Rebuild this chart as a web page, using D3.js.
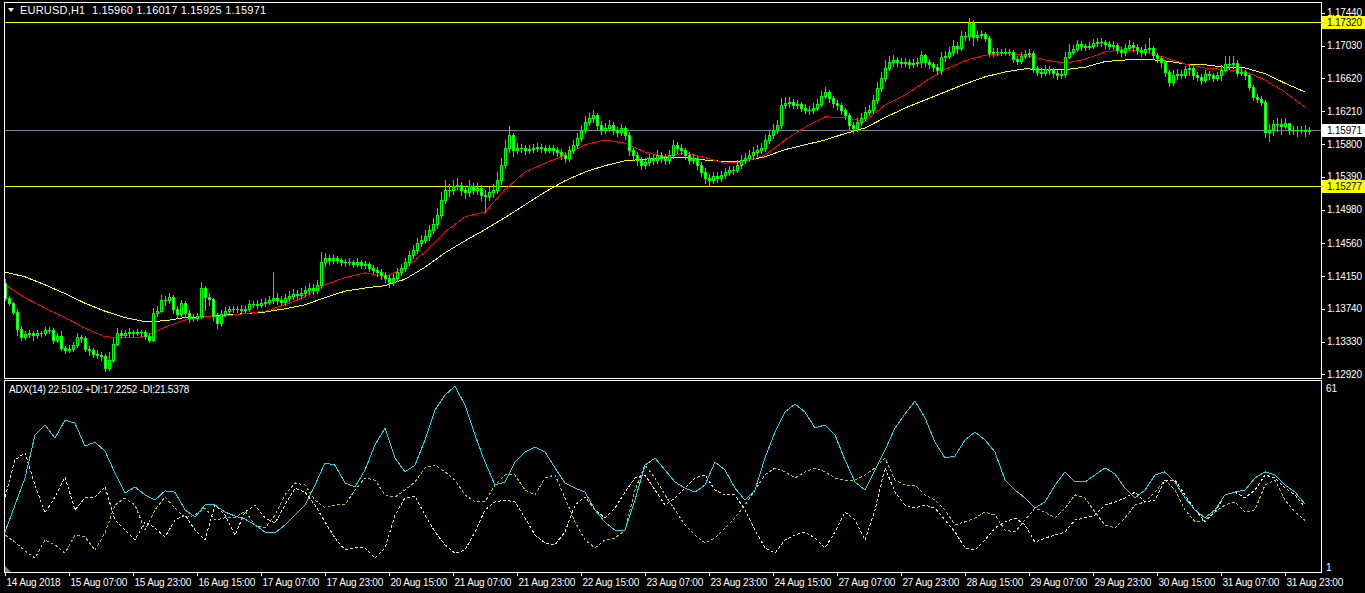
<!DOCTYPE html>
<html><head><meta charset="utf-8">
<script src="https://cdn.jsdelivr.net/npm/d3@7"></script>
<style>
body{margin:0;background:#000;overflow:hidden}
svg{display:block}
text{font-family:"Liberation Sans",Arial,sans-serif;font-size:10px;fill:#fff;white-space:pre}
</style></head><body>
<svg id="c" width="1365" height="593"></svg>
<script>
// ---------------- DATA ----------------
const symbolTitle = "EURUSD,H1  1.15960 1.16017 1.15925 1.15971";
const adxTitle = "ADX(14) 22.5102 +DI:17.2252 -DI:21.5378";
const firstOpen = 1.1406;
const close = [
1.1388,1.1381,1.1370,1.1349,1.1339,1.1343,1.1344,1.1341,1.1344,1.1344,
1.1348,1.1348,1.1335,1.1340,1.1325,1.1323,1.1324,1.1329,1.1339,1.1338,
1.1324,1.1323,1.1318,1.1316,1.1315,1.1300,1.1310,1.1330,1.1344,1.1341,
1.1344,1.1345,1.1344,1.1345,1.1345,1.1340,1.1335,1.1369,1.1371,1.1385,
1.1385,1.1389,1.1374,1.1368,1.1381,1.1369,1.1363,1.1363,1.1365,1.1400,
1.1389,1.1386,1.1365,1.1356,1.1368,1.1371,1.1374,1.1374,1.1374,1.1373,
1.1374,1.1380,1.1380,1.1379,1.1381,1.1383,1.1385,1.1388,1.1385,1.1383,
1.1388,1.1390,1.1393,1.1391,1.1394,1.1398,1.1400,1.1398,1.1404,1.1433,
1.1438,1.1435,1.1438,1.1435,1.1433,1.1433,1.1433,1.1430,1.1433,1.1429,
1.1430,1.1425,1.1423,1.1420,1.1416,1.1413,1.1408,1.1413,1.1420,1.1425,
1.1433,1.1441,1.1448,1.1456,1.1460,1.1465,1.1473,1.1480,1.1491,1.1510,
1.1523,1.1523,1.1528,1.1529,1.1523,1.1520,1.1528,1.1523,1.1525,1.1516,
1.1515,1.1520,1.1523,1.1535,1.1554,1.1575,1.1591,1.1573,1.1575,1.1575,
1.1573,1.1574,1.1575,1.1576,1.1575,1.1573,1.1575,1.1573,1.1570,1.1566,
1.1563,1.1573,1.1579,1.1588,1.1598,1.1608,1.1613,1.1616,1.1604,1.1598,
1.1600,1.1604,1.1598,1.1595,1.1600,1.1591,1.1573,1.1566,1.1560,1.1554,
1.1558,1.1563,1.1560,1.1566,1.1563,1.1560,1.1566,1.1579,1.1575,1.1573,
1.1566,1.1560,1.1563,1.1554,1.1545,1.1538,1.1535,1.1540,1.1538,1.1541,
1.1545,1.1548,1.1548,1.1554,1.1560,1.1563,1.1566,1.1570,1.1573,1.1575,
1.1585,1.1591,1.1598,1.1604,1.1629,1.1631,1.1633,1.1629,1.1630,1.1625,
1.1623,1.1623,1.1625,1.1630,1.1640,1.1645,1.1638,1.1631,1.1629,1.1623,
1.1616,1.1604,1.1600,1.1608,1.1613,1.1620,1.1623,1.1635,1.1650,1.1663,
1.1675,1.1683,1.1685,1.1683,1.1681,1.1683,1.1680,1.1681,1.1683,1.1691,
1.1683,1.1680,1.1676,1.1673,1.1689,1.1690,1.1695,1.1703,1.1700,1.1715,
1.1715,1.1731,1.1714,1.1716,1.1718,1.1713,1.1694,1.1695,1.1695,1.1695,
1.1695,1.1695,1.1686,1.1684,1.1690,1.1693,1.1694,1.1675,1.1670,1.1669,
1.1674,1.1673,1.1669,1.1666,1.1668,1.1689,1.1695,1.1699,1.1705,1.1703,
1.1701,1.1703,1.1706,1.1708,1.1708,1.1705,1.1703,1.1704,1.1698,1.1695,
1.1700,1.1704,1.1701,1.1698,1.1695,1.1699,1.1700,1.1691,1.1688,1.1683,
1.1670,1.1658,1.1666,1.1668,1.1666,1.1674,1.1675,1.1666,1.1664,1.1660,
1.1668,1.1666,1.1663,1.1666,1.1673,1.1680,1.1680,1.1681,1.1669,1.1670,
1.1666,1.1651,1.1639,1.1636,1.1633,1.1595,1.1598,1.1605,1.1605,1.1603,
1.1606,1.1598,1.1598,1.1598,1.1598,1.1596,1.15971];
const high = [
1.1411,1.1390,1.1383,1.1374,1.1353,1.1346,1.1348,1.1346,1.1348,1.1346,
1.1351,1.1351,1.1350,1.1344,1.1346,1.1328,1.1329,1.1333,1.1344,1.1341,
1.1340,1.1328,1.1325,1.1323,1.1320,1.1318,1.1320,1.1338,1.1350,1.1348,
1.1348,1.1350,1.1348,1.1349,1.1348,1.1348,1.1344,1.1375,1.1378,1.1391,
1.1390,1.1394,1.1391,1.1378,1.1385,1.1384,1.1373,1.1368,1.1369,1.1408,
1.1403,1.1394,1.1388,1.1369,1.1373,1.1376,1.1378,1.1378,1.1378,1.1379,
1.1378,1.1385,1.1384,1.1385,1.1386,1.1388,1.1390,1.1420,1.1394,1.1390,
1.1393,1.1396,1.1399,1.1398,1.1400,1.1403,1.1406,1.1405,1.1410,1.1445,
1.1444,1.1441,1.1443,1.1440,1.1438,1.1436,1.1438,1.1435,1.1438,1.1435,
1.1434,1.1433,1.1429,1.1426,1.1424,1.1420,1.1416,1.1418,1.1425,1.1430,
1.1438,1.1446,1.1454,1.1463,1.1466,1.1473,1.1479,1.1488,1.1500,1.1520,
1.1535,1.1530,1.1535,1.1538,1.1533,1.1528,1.1535,1.1531,1.1531,1.1529,
1.1523,1.1526,1.1530,1.1545,1.1563,1.1585,1.1603,1.1594,1.1581,1.1580,
1.1579,1.1579,1.1580,1.1581,1.1580,1.1579,1.1579,1.1579,1.1576,1.1574,
1.1570,1.1578,1.1585,1.1594,1.1604,1.1615,1.1619,1.1623,1.1619,1.1609,
1.1606,1.1610,1.1608,1.1601,1.1605,1.1603,1.1595,1.1575,1.1570,1.1564,
1.1563,1.1568,1.1566,1.1573,1.1570,1.1568,1.1573,1.1585,1.1583,1.1580,
1.1575,1.1570,1.1568,1.1565,1.1558,1.1550,1.1543,1.1545,1.1545,1.1546,
1.1550,1.1553,1.1553,1.1560,1.1566,1.1569,1.1573,1.1576,1.1579,1.1581,
1.1591,1.1598,1.1605,1.1610,1.1638,1.1639,1.1639,1.1636,1.1635,1.1633,
1.1630,1.1628,1.1631,1.1636,1.1646,1.1651,1.1648,1.1640,1.1635,1.1631,
1.1625,1.1619,1.1608,1.1613,1.1619,1.1626,1.1629,1.1641,1.1658,1.1670,
1.1685,1.1690,1.1691,1.1689,1.1688,1.1688,1.1686,1.1686,1.1688,1.1696,
1.1693,1.1686,1.1683,1.1680,1.1695,1.1696,1.1701,1.1710,1.1708,1.1721,
1.1720,1.1738,1.1735,1.1721,1.1723,1.1720,1.1715,1.1700,1.1700,1.1699,
1.1700,1.1699,1.1698,1.1690,1.1695,1.1698,1.1699,1.1696,1.1678,1.1675,
1.1679,1.1678,1.1675,1.1673,1.1673,1.1695,1.1705,1.1704,1.1710,1.1709,
1.1705,1.1708,1.1711,1.1713,1.1713,1.1710,1.1709,1.1709,1.1706,1.1701,
1.1705,1.1710,1.1708,1.1705,1.1701,1.1705,1.1713,1.1703,1.1694,1.1690,
1.1685,1.1673,1.1673,1.1674,1.1673,1.1678,1.1680,1.1678,1.1670,1.1668,
1.1673,1.1671,1.1669,1.1670,1.1679,1.1690,1.1690,1.1690,1.1685,1.1675,
1.1673,1.1669,1.1654,1.1643,1.1640,1.1635,1.1605,1.1610,1.1613,1.1611,
1.1613,1.1605,1.1603,1.1603,1.1603,1.1604,1.16017];
const low = [
1.1385,1.1379,1.1368,1.1341,1.1335,1.1336,1.1339,1.1335,1.1338,1.1340,
1.1341,1.1344,1.1331,1.1333,1.1323,1.1319,1.1320,1.1321,1.1326,1.1333,
1.1321,1.1316,1.1314,1.1313,1.1310,1.1296,1.1298,1.1308,1.1329,1.1338,
1.1339,1.1340,1.1340,1.1341,1.1340,1.1336,1.1333,1.1334,1.1365,1.1370,
1.1379,1.1381,1.1369,1.1363,1.1365,1.1364,1.1358,1.1359,1.1360,1.1363,
1.1373,1.1379,1.1360,1.1350,1.1353,1.1365,1.1369,1.1370,1.1370,1.1369,
1.1370,1.1371,1.1376,1.1375,1.1376,1.1378,1.1380,1.1381,1.1380,1.1379,
1.1379,1.1384,1.1386,1.1386,1.1388,1.1390,1.1393,1.1393,1.1394,1.1400,
1.1428,1.1430,1.1431,1.1431,1.1429,1.1428,1.1429,1.1426,1.1428,1.1425,
1.1425,1.1421,1.1419,1.1415,1.1411,1.1408,1.1401,1.1404,1.1409,1.1416,
1.1421,1.1429,1.1438,1.1444,1.1453,1.1456,1.1460,1.1469,1.1475,1.1488,
1.1506,1.1515,1.1518,1.1524,1.1516,1.1513,1.1515,1.1518,1.1518,1.1510,
1.1495,1.1510,1.1514,1.1519,1.1530,1.1550,1.1570,1.1565,1.1569,1.1570,
1.1568,1.1569,1.1570,1.1571,1.1570,1.1569,1.1570,1.1568,1.1565,1.1561,
1.1558,1.1559,1.1569,1.1575,1.1584,1.1594,1.1604,1.1608,1.1599,1.1593,
1.1594,1.1596,1.1593,1.1590,1.1591,1.1586,1.1566,1.1560,1.1554,1.1549,
1.1550,1.1554,1.1555,1.1556,1.1558,1.1555,1.1556,1.1563,1.1569,1.1568,
1.1561,1.1555,1.1556,1.1549,1.1540,1.1531,1.1529,1.1531,1.1533,1.1534,
1.1538,1.1541,1.1543,1.1545,1.1550,1.1556,1.1559,1.1563,1.1565,1.1569,
1.1571,1.1581,1.1588,1.1594,1.1600,1.1625,1.1626,1.1625,1.1625,1.1621,
1.1619,1.1618,1.1619,1.1623,1.1628,1.1638,1.1633,1.1626,1.1624,1.1618,
1.1611,1.1599,1.1594,1.1596,1.1604,1.1610,1.1616,1.1619,1.1631,1.1646,
1.1659,1.1673,1.1678,1.1678,1.1676,1.1678,1.1675,1.1676,1.1678,1.1676,
1.1678,1.1675,1.1671,1.1668,1.1668,1.1684,1.1688,1.1691,1.1694,1.1698,
1.1710,1.1710,1.1704,1.1710,1.1713,1.1709,1.1690,1.1690,1.1691,1.1691,
1.1691,1.1691,1.1683,1.1680,1.1681,1.1688,1.1689,1.1670,1.1666,1.1664,
1.1666,1.1668,1.1664,1.1661,1.1663,1.1664,1.1688,1.1693,1.1696,1.1698,
1.1698,1.1699,1.1700,1.1703,1.1703,1.1700,1.1699,1.1699,1.1694,1.1690,
1.1691,1.1698,1.1696,1.1693,1.1690,1.1691,1.1695,1.1686,1.1683,1.1676,
1.1665,1.1653,1.1654,1.1661,1.1663,1.1663,1.1666,1.1661,1.1660,1.1655,
1.1658,1.1661,1.1659,1.1660,1.1660,1.1670,1.1674,1.1675,1.1665,1.1666,
1.1661,1.1648,1.1635,1.1633,1.1629,1.1589,1.1584,1.1591,1.1596,1.1593,
1.1600,1.1593,1.1593,1.1590,1.1594,1.1590,1.15925];
// moving averages, read every 5 bars
const maStep = 5;
const maSlow = [1.1420,1.1414,1.1404,1.1393,1.1381,1.1371,1.1363,1.1358,1.1359,1.1363,
1.1364,1.1366,1.1368,1.1370,1.1374,1.1379,1.1388,1.1396,1.1400,1.1403,
1.1411,1.1426,1.1444,1.1459,1.1473,1.1488,1.1504,1.1520,1.1534,1.1545,
1.1553,1.1559,1.1561,1.1563,1.1563,1.1560,1.1558,1.1559,1.1564,1.1573,
1.1579,1.1585,1.1593,1.1600,1.1613,1.1625,1.1635,1.1645,1.1655,1.1664,
1.1670,1.1674,1.1673,1.1673,1.1676,1.1683,1.1685,1.1686,1.1684,1.1680,
1.1679,1.1676,1.1675,1.1668,1.1656,1.1645];
const maFast = [1.1404,1.1388,1.1375,1.1363,1.1350,1.1339,1.1338,1.1339,1.1351,1.1360,
1.1364,1.1365,1.1368,1.1371,1.1379,1.1389,1.1404,1.1413,1.1419,1.1414,
1.1425,1.1445,1.1470,1.1489,1.1495,1.1523,1.1545,1.1556,1.1566,1.1579,
1.1585,1.1581,1.1570,1.1564,1.1569,1.1563,1.1556,1.1558,1.1566,1.1585,
1.1601,1.1614,1.1613,1.1608,1.1629,1.1641,1.1658,1.1673,1.1684,1.1691,
1.1693,1.1691,1.1685,1.1681,1.1686,1.1695,1.1698,1.1695,1.1688,1.1680,
1.1675,1.1673,1.1671,1.1660,1.1645,1.1626];
// ADX(14) readings every 2.5 bars
const adxStep = 2.5;
const adx = [13.4,22.2,31.0,45.0,48.3,44.0,49.9,48.9,41.4,42.7,
39.8,32.6,26.1,28.1,25.5,23.8,26.8,26.4,20.6,18.3,
22.2,22.2,19.9,18.6,17.6,15.7,13.4,13.1,15.7,18.9,
22.2,28.7,35.9,35.2,29.4,28.1,33.6,41.8,47.3,37.5,
33.0,35.2,43.4,53.2,58.1,60.9,54.8,45.0,36.2,28.7,
29.7,36.2,39.5,41.1,39.5,34.3,29.4,27.7,26.4,20.6,
16.6,14.0,14.0,23.8,35.2,37.5,33.6,29.7,27.7,26.4,
28.7,36.2,33.6,27.7,23.8,27.1,37.5,46.0,52.5,55.1,
52.5,47.3,48.3,45.0,36.9,29.7,27.1,33.6,40.1,47.3,
51.9,56.1,50.6,42.7,37.5,38.2,43.4,46.0,43.4,39.5,
30.3,27.1,24.5,21.2,23.2,28.7,33.0,29.7,29.7,32.0,
34.3,32.3,27.7,24.5,27.1,32.0,33.0,29.7,24.5,20.6,
18.0,20.6,25.5,26.4,27.1,31.0,33.0,32.0,28.7,26.4,22.5];
const plusDI = [12.4,10.1,7.2,4.9,10.8,9.2,6.5,12.4,11.8,7.5,
13.1,22.2,24.5,22.2,14.0,20.6,24.8,21.2,18.0,18.9,
21.2,17.3,18.0,18.0,20.2,15.7,14.7,18.9,25.5,29.4,
28.7,23.8,21.2,22.2,22.2,27.1,31.0,30.3,25.5,24.8,
27.1,29.7,34.3,35.2,33.0,30.3,25.5,23.2,23.2,28.7,
32.0,32.0,27.1,25.5,31.0,32.0,24.5,16.7,10.8,8.2,
10.8,11.4,14.0,27.1,35.2,31.0,25.5,20.6,15.7,12.4,
9.8,11.4,14.7,18.0,22.2,27.1,32.0,34.3,33.0,31.0,
33.0,34.3,33.0,31.0,30.3,30.3,32.0,34.3,37.5,30.3,
28.7,28.7,25.5,23.8,20.6,15.7,16.7,18.0,19.9,18.9,
14.0,13.4,17.3,21.2,19.9,18.0,21.2,25.5,24.5,19.9,
15.7,14.7,18.0,22.2,23.2,26.4,30.3,27.1,20.6,16.7,
17.3,19.9,22.2,23.2,19.9,20.6,28.7,30.3,23.8,19.9,17.2];
const minusDI = [24.8,36.9,39.2,28.7,19.6,24.8,31.3,20.6,24.5,24.8,
28.1,17.3,14.0,10.8,16.7,14.7,11.8,17.3,18.9,14.0,
10.8,22.2,18.9,12.4,19.9,22.2,18.0,16.3,22.2,27.7,
26.4,22.2,16.7,11.4,7.5,8.2,8.2,4.9,8.2,18.9,
24.5,25.1,18.9,13.4,9.2,6.5,7.5,13.4,20.6,23.2,
23.8,23.2,18.0,12.4,9.8,9.2,13.4,22.2,24.8,20.6,
18.0,21.2,26.4,31.0,32.0,27.1,22.2,24.5,27.7,31.0,
32.0,27.1,25.5,25.5,20.6,14.0,8.2,6.5,10.8,12.4,
13.4,11.4,8.2,13.4,19.9,17.3,10.8,20.6,34.3,26.4,
22.2,21.2,22.2,21.2,17.3,13.4,8.2,7.5,10.8,14.7,
16.7,18.0,15.7,10.1,11.4,12.4,13.4,17.3,18.0,18.9,
22.2,23.2,24.5,26.4,23.2,23.8,30.3,30.3,25.5,20.6,
16.7,19.9,25.5,26.4,24.5,27.1,32.0,31.0,27.7,25.5,21.5];
const priceTicks = [1.17440,1.17030,1.16620,1.16210,1.15800,1.15390,1.14980,1.14560,1.14150,1.13740,1.13330,1.12920];
const levelLines = [1.17320, 1.15277];
const bidPrice = 1.15971;
const adxRange = [1, 61];
const timeStep = 16;
const timeLabels = ["14 Aug 2018","15 Aug 07:00","15 Aug 23:00","16 Aug 15:00","17 Aug 07:00","17 Aug 23:00","20 Aug 15:00","21 Aug 07:00","21 Aug 23:00","22 Aug 15:00","23 Aug 07:00","23 Aug 23:00","24 Aug 15:00","27 Aug 07:00","27 Aug 23:00","28 Aug 15:00","29 Aug 07:00","29 Aug 23:00","30 Aug 15:00","31 Aug 07:00","31 Aug 23:00"];

// ---------------- DRAW ----------------
const open = close.map((c, i) => i === 0 ? firstOpen : close[i - 1]);
const W = 1365, H = 593;
const L = 4, R = 1321, pTop = 2, pBot = 378, aTop = 380, aBot = 572;
const svg = d3.select('#c');
svg.append('rect').attr('width', W).attr('height', H).attr('fill', '#000');

const x = d3.scaleLinear().domain([0, close.length - 1]).range([5, 1309]);
const y = d3.scaleLinear().domain([1.12875, 1.175375]).range([378, 5]);
const ya = d3.scaleLinear().domain(adxRange).range([570, 386]);

const defs = svg.append('defs');
defs.append('clipPath').attr('id', 'cp').append('rect').attr('x', L + 1).attr('y', pTop + 1).attr('width', R - L - 1).attr('height', pBot - pTop - 1);
defs.append('clipPath').attr('id', 'ca').append('rect').attr('x', L + 1).attr('y', aTop + 1).attr('width', R - L - 1).attr('height', aBot - aTop - 1);

// horizontal level lines
const gp = svg.append('g').attr('clip-path', 'url(#cp)');
gp.selectAll('line.lvl').data(levelLines).join('line')
  .attr('x1', L).attr('x2', R).attr('y1', d => Math.round(y(d)) + 0.5).attr('y2', d => Math.round(y(d)) + 0.5)
  .attr('stroke', '#ffff00').attr('stroke-width', 1);
gp.append('line').attr('x1', L).attr('x2', R)
  .attr('y1', Math.round(y(bidPrice)) + 0.5).attr('y2', Math.round(y(bidPrice)) + 0.5)
  .attr('stroke', '#778899');

// moving averages
const maLine = d3.line().x((d, i) => x(i * maStep)).y(d => y(d));
gp.append('path').datum(maSlow).attr('d', maLine).attr('fill', 'none').attr('stroke', '#ffff00').attr('stroke-width', 1).attr('shape-rendering', 'crispEdges');
gp.append('path').datum(maFast).attr('d', maLine).attr('fill', 'none').attr('stroke', '#ff0000').attr('stroke-width', 1).attr('shape-rendering', 'crispEdges');

// candles
const gc = gp.append('g').attr('shape-rendering', 'crispEdges');
close.forEach((c, i) => {
  const o = open[i];
  const cx = Math.round(x(i));
  const hi = Math.max(high[i], o, c), lo = Math.min(low[i], o, c);
  const yh = Math.round(y(hi)), yl = Math.round(y(lo));
  gc.append('rect').attr('x', cx).attr('y', yh).attr('width', 1).attr('height', Math.max(1, yl - yh + 1)).attr('fill', '#00ff00');
  const yt = Math.round(y(Math.max(o, c))), yb = Math.round(y(Math.min(o, c)));
  if (yb - yt < 2) {
    gc.append('rect').attr('x', cx - 1).attr('y', yt).attr('width', 3).attr('height', Math.max(1, yb - yt + 1)).attr('fill', '#00ff00');
  } else {
    gc.append('rect').attr('x', cx - 1).attr('y', yt).attr('width', 3).attr('height', yb - yt + 1).attr('fill', '#00ff00');
    gc.append('rect').attr('x', cx).attr('y', yt + 1).attr('width', 1).attr('height', yb - yt - 1).attr('fill', c < o ? '#ffffff' : '#000000');
  }
});

// ADX panel
const ga = svg.append('g').attr('clip-path', 'url(#ca)').attr('shape-rendering', 'crispEdges');
const aLine = d3.line().x((d, i) => x(i * adxStep)).y(d => ya(d));
ga.append('path').datum(plusDI).attr('d', aLine).attr('fill', 'none').attr('stroke', '#9acd32').attr('stroke-dasharray', '3,2');
ga.append('path').datum(minusDI).attr('d', aLine).attr('fill', 'none').attr('stroke', '#f5deb3').attr('stroke-dasharray', '3,2');
ga.append('path').datum(adx).attr('d', aLine).attr('fill', 'none').attr('stroke', '#1ed8e8').attr('stroke-width', 1);

// frames
const fr = svg.append('g').attr('fill', 'none').attr('stroke', '#ffffff').attr('shape-rendering', 'crispEdges');
fr.append('rect').attr('x', L + 0.5).attr('y', pTop + 0.5).attr('width', R - L).attr('height', pBot - pTop);
fr.append('rect').attr('x', L + 0.5).attr('y', aTop + 0.5).attr('width', R - L).attr('height', aBot - aTop);
svg.append('path').attr('d', `M${L + 1},${aBot - 6}L${L + 7},${aBot}L${L + 1},${aBot}Z`).attr('fill', '#808080');

// price axis
const ax = svg.append('g');
ax.selectAll('line').data(priceTicks).join('line')
  .attr('x1', R + 1).attr('x2', R + 4).attr('y1', d => Math.round(y(d)) + 0.5).attr('y2', d => Math.round(y(d)) + 0.5)
  .attr('stroke', '#fff');
ax.selectAll('text').data(priceTicks).join('text')
  .attr('x', R + 6).attr('y', d => y(d)).attr('dy', '0.35em').style('letter-spacing', '-0.2px')
  .text(d => d.toFixed(5));

// level labels
const lb = svg.append('g');
const boxes = levelLines.map(v => ({ v, bg: '#ffff00' })).concat([{ v: bidPrice, bg: '#ffffff' }]);
boxes.forEach(b => {
  const yy = Math.round(y(b.v));
  lb.append('rect').attr('x', R + 1).attr('y', yy - 6).attr('width', 43).attr('height', 13).attr('fill', b.bg);
  lb.append('text').attr('x', R + 6).attr('y', yy).attr('dy', '0.35em').style('fill', '#000').style('letter-spacing', '-0.2px').text(b.v.toFixed(5));
});

// ADX scale labels
svg.append('text').attr('x', R + 5).attr('y', ya(adxRange[1]) + 2).attr('dy', '0.35em').text(adxRange[1]);
svg.append('text').attr('x', R + 5).attr('y', ya(adxRange[0]) - 3).attr('dy', '0.35em').text(adxRange[0]);

// time axis
const tg = svg.append('g');
timeLabels.forEach((t, k) => {
  const xx = Math.round(x(k * timeStep)) + 0.5;
  tg.append('line').attr('x1', xx).attr('x2', xx).attr('y1', aBot).attr('y2', aBot + 4).attr('stroke', '#fff');
  tg.append('text').attr('x', xx + 1).attr('y', 586).style('letter-spacing', '-0.2px').text(t);
});

// titles
svg.append('path').attr('d', 'M8,8L14,8L11,12Z').attr('fill', '#fff');
svg.append('text').attr('x', 20).attr('y', 14).style('font-size', '11px').style('letter-spacing', '0.2px').text(symbolTitle);
svg.append('text').attr('x', 9).attr('y', 393).style('letter-spacing', '-0.25px').text(adxTitle);
</script></body></html>
